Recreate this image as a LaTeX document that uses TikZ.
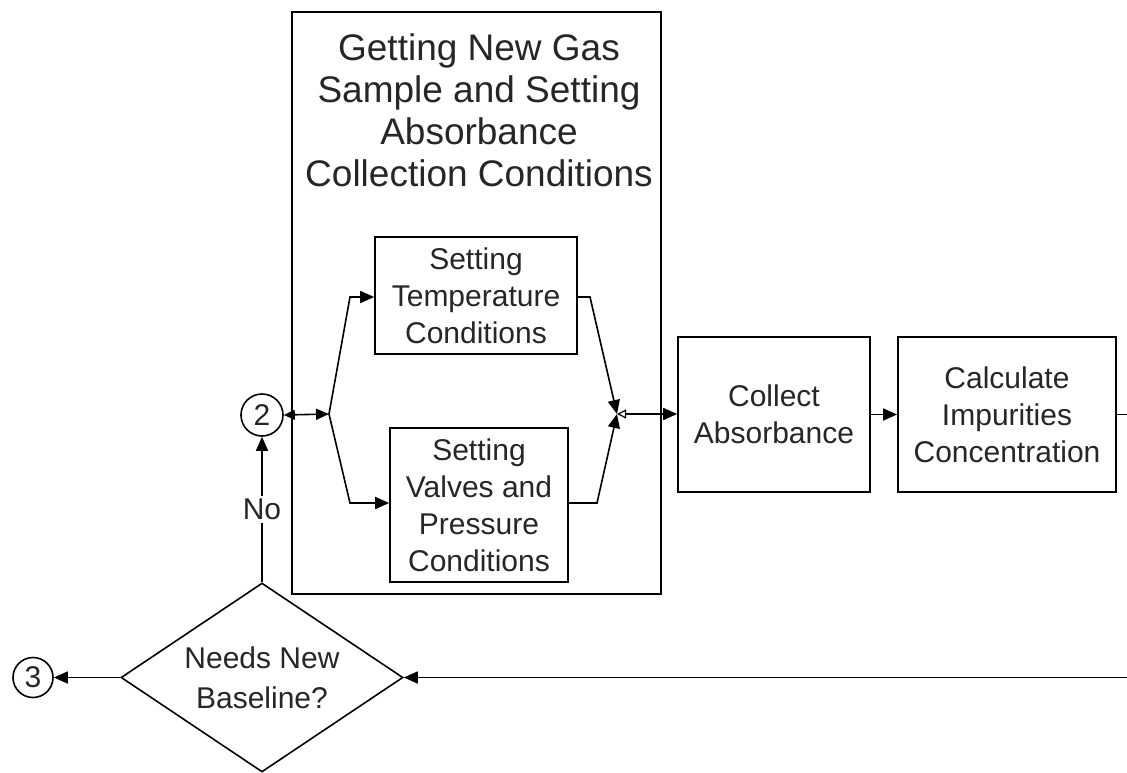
\documentclass[tikz,border=0pt]{standalone}
\usepackage{fontspec}
\setmainfont{Liberation Sans}
\usetikzlibrary{shapes.geometric,arrows.meta}
\begin{document}
\begin{tikzpicture}[x=1pt,y=-1pt,line width=1.6pt,
  every node/.style={text=black!85},
  tip/.style={-{Triangle[length=14pt,width=12pt]}},
  smalltip/.style={{Triangle[length=11pt,width=10pt]}-{Triangle[length=13pt,width=11pt]}},
  opentip/.style={{Triangle[open,length=9pt,width=9pt,line width=1.2pt]}-{Triangle[length=14pt,width=12pt]}},
  box/.style={draw,rectangle,inner sep=0pt,align=center,font=\fontsize{30}{37}\selectfont},
  ttl/.style={align=center,inner sep=0pt,font=\fontsize{37}{42}\selectfont},
  conn/.style={draw,circle,inner sep=0pt,font=\fontsize{30}{36}\selectfont},
  dec/.style={draw,diamond,aspect=1.5,inner sep=0pt,align=center,font=\fontsize{30}{40}\selectfont},
  lbl/.style={fill=white,inner sep=3pt,font=\fontsize{30}{36}\selectfont}]
\useasboundingbox (0,0) rectangle (1127,773);

% group box and title
\node[box,minimum width=369pt,minimum height=582pt] (grp) at (476.5,303) {};
\node[ttl] (title) at (479,110) {Getting New Gas\\Sample and Setting\\Absorbance\\Collection Conditions};

% process boxes
\node[box,minimum width=202pt,minimum height=117pt] (temp) at (476,295.5) {Setting\\Temperature\\Conditions};
\node[box,minimum width=178pt,minimum height=154pt] (valv) at (479,505) {Setting\\Valves and\\Pressure\\Conditions};
\node[box,minimum width=192pt,minimum height=155pt] (coll) at (774,414.5) {Collect\\Absorbance};
\node[box,minimum width=218pt,minimum height=155pt] (calc) at (1007,414.5) {Calculate\\Impurities\\Concentration};

% connectors (off-page references)
\node[conn,minimum size=42pt] (c2) at (262,415) {2};
\node[conn,minimum size=40pt] (c3) at (33,677.5) {3};

% decision
\node[dec,minimum width=282pt,minimum height=189pt] (dec) at (262,677.5) {Needs New\\Baseline?};

% helper coordinates
\coordinate (split) at (329,414);
\coordinate (tj1) at (350,297);
\coordinate (bj1) at (350,503);
\coordinate (tj2) at (590,297);
\coordinate (bj2) at (597,503);
\coordinate (merge) at (617,414);
\coordinate (rc) at (1127,414.5);
\coordinate (rb) at (1127,677.5);

% edges
\draw[smalltip] (c2.east) -- (split);
\draw[tip] (split) -- (tj1) -- (tj1 -| temp.west);
\draw[tip] (split) -- (bj1) -- (bj1 -| valv.west);
\draw[tip] (tj2 -| temp.east) -- (tj2) -- (merge);
\draw[tip] (bj2 -| valv.east) -- (bj2) -- (merge);
\draw[opentip] (merge) -- (merge -| coll.west);
\draw[tip] (coll) -- (calc);
\draw (calc.east) -- (rc);
\draw[tip] (rb) -- (dec.east);
\draw[tip] (dec.west) -- (c3);
\draw[tip] (dec.north) -- node[lbl] (no) {No} (c2);
\end{tikzpicture}
\end{document}
